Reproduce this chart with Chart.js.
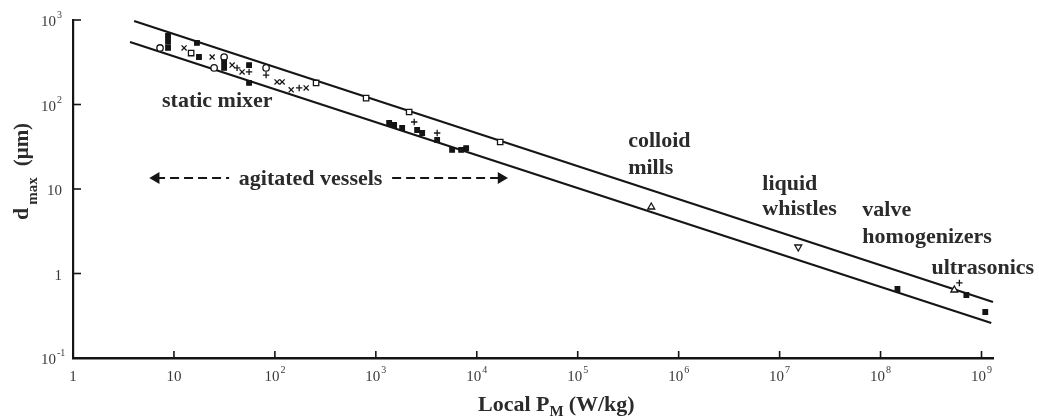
<!DOCTYPE html>
<html>
<head>
<meta charset="utf-8">
<title>Maximum drop size vs local power input</title>
<script src="https://cdn.jsdelivr.net/npm/chart.js@4.4.1/dist/chart.umd.min.js"></script>
<style>
  html, body { margin: 0; padding: 0; background: #fff; }
  #wrap { width: 1039px; height: 419px; position: relative; }
</style>
</head>
<body>
<div id="wrap"><canvas id="dropChart"></canvas></div>
<script>
// decade ticks on both log axes ("^" marks the exponent)
const xTicks = [1, 1e1, 1e2, 1e3, 1e4, 1e5, 1e6, 1e7, 1e8, 1e9];
const xTickLabels = ["1", "10", "10^2", "10^3", "10^4", "10^5", "10^6", "10^7", "10^8", "10^9"];
const yTicks = [0.1, 1, 10, 100, 1000];
const yTickLabels = ["10^-1", "1", "10", "10^2", "10^3"];

// correlation band, d_max ~ P^-0.4
const upperBound = [{ x: 4.03, y: 973 }, { x: 1.3e9, y: 0.46 }];
const lowerBound = [{ x: 3.67, y: 550 }, { x: 1.25e9, y: 0.26 }];

// measured points, grouped by marker
const solidPoints = [
  { x: 8.74, y: 647 }, { x: 8.74, y: 550 }, { x: 8.74, y: 467 },
  { x: 16.9, y: 535 }, { x: 17.7, y: 365 },
  { x: 31.4, y: 318 }, { x: 31.4, y: 271 },
  { x: 55.5, y: 293 }, { x: 55.5, y: 180 },
  { x: 1355, y: 60.4 }, { x: 1518, y: 57.2 }, { x: 1823, y: 52.7 }, { x: 2566, y: 49.9 },
  { x: 2878, y: 46.0 }, { x: 4050, y: 38.0 }, { x: 5700, y: 29.0 }, { x: 7000, y: 29.0 },
  { x: 7850, y: 30.5 },
  { x: 1.47e8, y: 0.656 }, { x: 7.08e8, y: 0.557 }, { x: 1.09e9, y: 0.35 },
];
const crossPoints = [
  { x: 12.6, y: 467 }, { x: 23.9, y: 365 }, { x: 37.7, y: 293 }, { x: 47.3, y: 243 },
  { x: 105, y: 185 }, { x: 118, y: 185 }, { x: 145, y: 149 }, { x: 204, y: 157 },
];
const plusPoints = [
  { x: 42.2, y: 271 }, { x: 55.5, y: 243 }, { x: 81.8, y: 223 }, { x: 174, y: 157 },
  { x: 2400, y: 62.1 }, { x: 4050, y: 46.0 }, { x: 6.04e8, y: 0.773 },
];
const squarePoints = [
  { x: 14.8, y: 406 }, { x: 256, y: 180 }, { x: 801, y: 119 }, { x: 2138, y: 81.5 }, { x: 17060, y: 36.0 },
];
const circlePoints = [
  { x: 7.28, y: 467 }, { x: 25.0, y: 271 }, { x: 31.4, y: 365 }, { x: 81.8, y: 271 },
];
const trianglePoints = [{ x: 5.35e5, y: 6.12 }, { x: 5.38e8, y: 0.638 }];
const invTrianglePoints = [{ x: 1.53e7, y: 2.06 }];

// range covered by agitated vessels
const vesselsLeft = [{ x: 6.65, y: 13.5 }, { x: 35.2, y: 13.5 }];
const vesselsRight = [{ x: 1450, y: 13.5 }, { x: 17450, y: 13.5 }];

// equipment labels, anchored at their left baseline
const notes = [
  { text: "static mixer", x: 7.62, y: 93.3 },
  { text: "colloid", x: 3.16e5, y: 31.4 },
  { text: "mills", x: 3.16e5, y: 15.1 },
  { text: "liquid", x: 6.74e6, y: 9.72 },
  { text: "whistles", x: 6.74e6, y: 4.92 },
  { text: "valve", x: 6.6e7, y: 4.78 },
  { text: "homogenizers", x: 6.6e7, y: 2.30 },
  { text: "ultrasonics", x: 3.19e8, y: 1.0 },
];

const INK = "#151515";
const TEXT = "#2b2b2b";
const SERIF = "'Liberation Serif', 'Times New Roman', serif";

function markerSet(data, style, fill, radius, rotation) {
  return {
    data,
    showLine: false,
    pointStyle: style,
    pointRadius: radius,
    pointHoverRadius: radius,
    pointBackgroundColor: fill,
    pointBorderColor: INK,
    pointBorderWidth: 1.3,
    pointRotation: rotation || 0,
    clip: false,
  };
}

function lineSet(data, dash, extra) {
  return Object.assign({
    data,
    showLine: true,
    borderColor: INK,
    borderWidth: 2.2,
    borderDash: dash || [],
    pointRadius: 0,
    clip: false,
  }, extra || {});
}

// "10^3" -> "10" with a raised "3"
function measurePower(ctx, label) {
  const [base, exp] = label.split("^");
  ctx.font = "15px " + SERIF;
  const bw = ctx.measureText(base).width;
  let ew = 0;
  if (exp) {
    ctx.font = "10px " + SERIF;
    ew = ctx.measureText(exp).width + 1;
  }
  return { base, exp, bw, ew };
}

function drawPower(ctx, m, left, baseline) {
  ctx.textAlign = "left";
  ctx.textBaseline = "alphabetic";
  ctx.font = "15px " + SERIF;
  ctx.fillText(m.base, left, baseline);
  if (m.exp) {
    ctx.font = "10px " + SERIF;
    ctx.fillText(m.exp, left + m.bw + 1, baseline - 8);
  }
}

const decorations = {
  id: "decorations",
  afterDraw(chart) {
    const { ctx, scales: { x, y }, chartArea } = chart;
    ctx.save();

    // inward tick marks
    ctx.strokeStyle = INK;
    ctx.lineWidth = 1.6;
    xTicks.slice(1).forEach((v) => {
      const px = x.getPixelForValue(v);
      ctx.beginPath();
      ctx.moveTo(px, chartArea.bottom);
      ctx.lineTo(px, chartArea.bottom - 7);
      ctx.stroke();
    });
    yTicks.slice(1).forEach((v) => {
      const py = y.getPixelForValue(v);
      ctx.beginPath();
      ctx.moveTo(chartArea.left, py);
      ctx.lineTo(chartArea.left + 8, py);
      ctx.stroke();
    });

    // tick labels
    ctx.fillStyle = "#3a3a3a";
    xTicks.forEach((v, i) => {
      const m = measurePower(ctx, xTickLabels[i]);
      const px = x.getPixelForValue(v);
      drawPower(ctx, m, px - (m.bw + m.ew) / 2, chartArea.bottom + 23);
    });
    yTicks.forEach((v, i) => {
      const m = measurePower(ctx, yTickLabels[i]);
      const py = y.getPixelForValue(v);
      const left = m.exp ? chartArea.left - 17 - m.bw : chartArea.left - 11 - m.bw;
      drawPower(ctx, m, left, py + 6);
    });

    // equipment labels
    ctx.fillStyle = TEXT;
    ctx.font = "bold 22px " + SERIF;
    ctx.textAlign = "left";
    ctx.textBaseline = "alphabetic";
    notes.forEach((n) => {
      ctx.fillText(n.text, x.getPixelForValue(n.x), y.getPixelForValue(n.y));
    });

    // label between the two dashed arrows
    const vx = (x.getPixelForValue(vesselsLeft[1].x) + x.getPixelForValue(vesselsRight[0].x)) / 2;
    ctx.textAlign = "center";
    ctx.textBaseline = "middle";
    ctx.fillText("agitated vessels", vx, y.getPixelForValue(vesselsLeft[0].y) + 1);

    // x axis title: Local P_M (W/kg)
    ctx.textAlign = "left";
    ctx.textBaseline = "alphabetic";
    let tx = 478;
    const ty = 411;
    ctx.font = "bold 22px " + SERIF;
    ctx.fillText("Local P", tx, ty);
    tx += ctx.measureText("Local P").width;
    ctx.font = "bold 15px " + SERIF;
    ctx.fillText("M", tx, ty + 5);
    tx += ctx.measureText("M").width + 5;
    ctx.font = "bold 22px " + SERIF;
    ctx.fillText("(W/kg)", tx, ty);

    // y axis title: d_max (μm), reading upwards
    ctx.translate(28, 220);
    ctx.rotate(-Math.PI / 2);
    let ry = 0;
    ctx.font = "bold 22px " + SERIF;
    ctx.fillText("d", ry, 0);
    ry += ctx.measureText("d").width + 3;
    ctx.font = "bold 15px " + SERIF;
    ctx.fillText("max", ry, 9);
    ry += ctx.measureText("max").width + 11;
    ctx.font = "bold 21px " + SERIF;
    ctx.fillText("(μm)", ry, 0);

    ctx.restore();
  },
};

new Chart(document.getElementById("dropChart"), {
  type: "scatter",
  data: {
    datasets: [
      markerSet(solidPoints, "rect", INK, 3.2),
      markerSet(crossPoints, "crossRot", INK, 3.6),
      markerSet(plusPoints, "cross", INK, 3.2),
      markerSet(squarePoints, "rect", "#fff", 3.8),
      markerSet(circlePoints, "circle", "#fff", 3.2),
      markerSet(trianglePoints, "triangle", "#fff", 4),
      markerSet(invTrianglePoints, "triangle", "#fff", 4, 180),
      lineSet(vesselsLeft, [9, 5], {
        borderWidth: 1.8, pointRadius: [5, 0], pointStyle: "triangle",
        pointRotation: [-90, 0], pointBackgroundColor: INK, pointBorderColor: INK,
      }),
      lineSet(vesselsRight, [9, 5], {
        borderWidth: 1.8, pointRadius: [0, 5], pointStyle: "triangle",
        pointRotation: [0, 90], pointBackgroundColor: INK, pointBorderColor: INK,
      }),
      lineSet(upperBound),
      lineSet(lowerBound),
    ],
  },
  options: {
    responsive: true,
    maintainAspectRatio: false,
    animation: false,
    layout: { padding: { top: 20, right: 46, left: 0, bottom: 0 } },
    plugins: { legend: { display: false }, tooltip: { enabled: false } },
    scales: {
      x: {
        type: "logarithmic",
        min: 1,
        max: 1.3e9,
        afterBuildTicks: (axis) => { axis.ticks = xTicks.map((v) => ({ value: v })); },
        afterFit: (axis) => { axis.height = 61; },
        ticks: { display: false },
        grid: { display: false },
        border: { display: true, color: INK, width: 2.4 },
      },
      y: {
        type: "logarithmic",
        min: 0.1,
        max: 1000,
        afterBuildTicks: (axis) => { axis.ticks = yTicks.map((v) => ({ value: v })); },
        afterFit: (axis) => { axis.width = 73; },
        ticks: { display: false },
        grid: { display: false },
        border: { display: true, color: INK, width: 2.2 },
      },
    },
  },
  plugins: [decorations],
});
</script>
</body>
</html>
